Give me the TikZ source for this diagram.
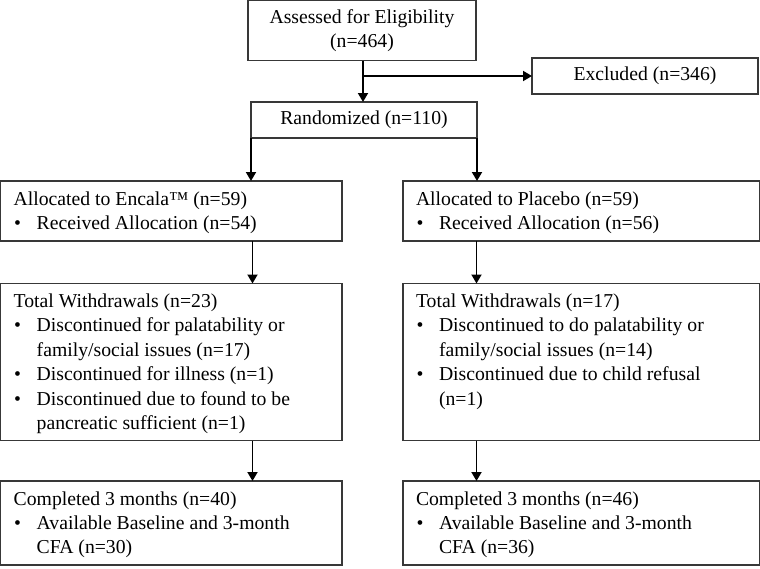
\documentclass[tikz,border=0pt]{standalone}
\usepackage{fontspec}
\setmainfont{Liberation Serif}
\usetikzlibrary{arrows.meta}
\newcommand{\bul}{\makebox[23pt][l]{\hspace{0.5pt}\textbullet}}
\newcommand{\ind}{\hspace*{23pt}}
\newcommand{\boxtext}[3]{\parbox[t][#2][t]{#1}{\raggedright\leftskip=13pt\parindent=0pt\rule{0pt}{24pt}#3}}
\tikzset{
  box/.style={draw=black!78, line width=1.3pt, inner sep=0pt, outer sep=0pt,
    font=\fontsize{19.7}{24.4}\selectfont},
  arr/.style={draw=black, line width=1.8pt, -{Triangle[width=10pt,length=9pt]}}
}
\begin{document}
\begin{tikzpicture}[x=1pt,y=-1pt]
\useasboundingbox (0,0) rectangle (760,568);
% top
\node[box, anchor=north west, minimum width=228pt, minimum height=60pt, align=center,
  font=\fontsize{19.7}{23.5}\selectfont] (assess) at (248,0.8)
  {Assessed for Eligibility\\(n=464)};
\node[box, anchor=north west, minimum width=226pt, minimum height=36pt] (excl) at (532,58)
  {Excluded (n=346)};
\node[box, anchor=north west, minimum width=226pt, minimum height=36pt] (rand) at (251,102)
  {Randomized (n=110)};
% allocation
\node[box, anchor=north west] (lalloc) at (0.7,181)
  {\boxtext{341.3pt}{60pt}{Allocated to Encala™ (n=59)\\
   \bul Received Allocation (n=54)}};
\node[box, anchor=north west] (ralloc) at (403,181)
  {\boxtext{356.3pt}{60pt}{Allocated to Placebo (n=59)\\
   \bul Received Allocation (n=56)}};
% withdrawals
\node[box, anchor=north west] (lwd) at (0.7,283.5)
  {\boxtext{341.3pt}{157pt}{Total Withdrawals (n=23)\\
   \bul Discontinued for palatability or\\
   \ind family/social issues (n=17)\\
   \bul Discontinued for illness (n=1)\\
   \bul Discontinued due to found to be\\
   \ind pancreatic sufficient (n=1)}};
\node[box, anchor=north west] (rwd) at (403,283.5)
  {\boxtext{356.3pt}{157pt}{Total Withdrawals (n=17)\\
   \bul Discontinued to do palatability or\\
   \ind family/social issues (n=14)\\
   \bul Discontinued due to child refusal\\
   \ind (n=1)}};
% completed
\node[box, anchor=north west] (lcomp) at (0.7,481)
  {\boxtext{341.3pt}{84pt}{Completed 3 months (n=40)\\
   \bul Available Baseline and 3-month\\
   \ind CFA (n=30)}};
\node[box, anchor=north west] (rcomp) at (403,481)
  {\boxtext{356.3pt}{84pt}{Completed 3 months (n=46)\\
   \bul Available Baseline and 3-month\\
   \ind CFA (n=36)}};
% connectors
\coordinate (lx) at (252.5,0);
\coordinate (rx) at (476.5,0);
\draw[arr] (assess.south -| 363,0) -- (rand.north -| 363,0);
\coordinate (branch) at (363,0 |- excl.west);
\draw[arr] (branch) -- (excl.west);
\draw[arr] (rand.south west) -- (rand.south west |- lalloc.north);
\draw[arr] (rand.south east) -- (rand.south east |- ralloc.north);
\draw[arr] (lalloc.south -| lx) -- (lwd.north -| lx);
\draw[arr] (ralloc.south -| rx) -- (rwd.north -| rx);
\draw[arr] (lwd.south -| lx) -- (lcomp.north -| lx);
\draw[arr] (rwd.south -| rx) -- (rcomp.north -| rx);
\end{tikzpicture}
\end{document}
